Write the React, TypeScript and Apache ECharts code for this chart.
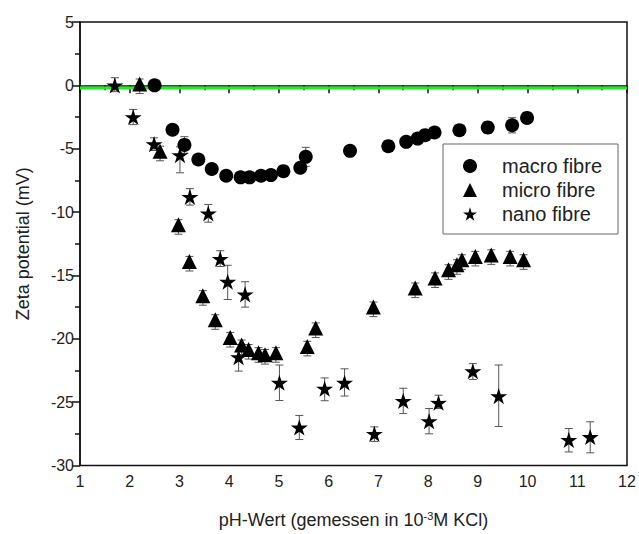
import React, { useEffect, useRef } from "react";
import * as echarts from "echarts";

const macroX = [2.5, 2.86, 3.1, 3.38, 3.65, 3.94, 4.23, 4.41, 4.64, 4.84, 5.09, 5.43, 5.54, 6.43, 7.2, 7.56, 7.79, 7.94, 8.13, 8.63, 9.2, 9.69, 9.99];
const macroY = [0, -3.5, -4.7, -5.85, -6.6, -7.13, -7.26, -7.26, -7.13, -7.08, -6.77, -6.5, -5.64, -5.17, -4.8, -4.46, -4.2, -3.93, -3.72, -3.54, -3.33, -3.15, -2.57];
const macroErr = [0.3, 0.3, 0.65, 0.3, 0.3, 0.3, 0.3, 0.3, 0.3, 0.3, 0.3, 0.3, 0.75, 0.4, 0.3, 0.3, 0.3, 0.3, 0.3, 0.3, 0.45, 0.6, 0.3];

const microX = [2.2, 2.61, 2.98, 3.2, 3.47, 3.72, 4.02, 4.25, 4.39, 4.59, 4.72, 4.94, 5.57, 5.74, 6.9, 7.74, 8.14, 8.41, 8.58, 8.68, 8.95, 9.27, 9.65, 9.92];
const microY = [0.1, -5.2, -11.0, -13.9, -16.6, -18.5, -19.9, -20.5, -20.85, -21.1, -21.25, -21.1, -20.6, -19.15, -17.5, -16.0, -15.2, -14.56, -14.16, -13.77, -13.5, -13.38, -13.5, -13.77];
const microErrUp = [0.4, 0.4, 0.4, 0.4, 0.4, 0.4, 0.4, 0.4, 0.4, 0.4, 0.4, 0.4, 0.4, 0.4, 0.4, 0.4, 0.4, 0.4, 0.4, 0.4, 0.4, 0.4, 0.4, 0.4];
const microErrDown = [0.75, 0.75, 0.75, 0.75, 0.75, 0.75, 0.75, 0.75, 0.75, 0.75, 0.75, 0.75, 0.75, 0.75, 0.75, 0.75, 0.75, 0.75, 0.75, 0.75, 0.75, 0.75, 0.75, 0.75];

const nanoX = [1.7, 2.07, 2.49, 3.01, 3.21, 3.58, 3.82, 3.97, 4.19, 4.32, 5.01, 5.41, 5.92, 6.32, 6.92, 7.5, 8.02, 8.21, 8.9, 9.42, 10.83, 11.26];
const nanoY = [0, -2.5, -4.64, -5.5, -8.8, -10.1, -13.7, -15.5, -21.45, -16.5, -23.47, -27.0, -23.94, -23.47, -27.5, -24.9, -26.5, -25.05, -22.56, -24.52, -27.98, -27.75];
const nanoErrUp = [0.6, 0.6, 0.5, 0.65, 0.65, 0.7, 0.65, 1.3, 1.0, 1.0, 1.4, 0.95, 0.85, 1.1, 0.55, 1.0, 1.0, 0.6, 0.6, 2.45, 0.9, 1.2];
const nanoErrDown = [0.5, 0.6, 0.5, 1.4, 0.65, 0.7, 0.6, 1.4, 1.1, 1.0, 1.4, 0.95, 0.95, 1.05, 0.6, 1.0, 1.0, 0.45, 0.65, 2.4, 0.95, 1.25];

const referenceLine = -0.2;
const seriesNames = ["macro fibre", "micro fibre", "nano fibre"];

const STAR =
  "path://M50 0 L61.17 34.63 L97.55 34.55 L68.07 55.87 L79.39 90.45 L50 69 L20.61 90.45 L31.93 55.87 L2.45 34.55 L38.83 34.63 Z";
const FONT = "'Liberation Sans', Arial, sans-serif";

function errData(xs: number[], ys: number[], up: number[], down: number[]) {
  return xs.map((x, i) => [x, ys[i] - down[i], ys[i] + up[i]]);
}

const renderErr = (params: any, api: any) => {
  const x = api.value(0);
  const lo = api.coord([x, api.value(1)]);
  const hi = api.coord([x, api.value(2)]);
  const hw = 4;
  const st = { stroke: "#555", lineWidth: 1 };
  return {
    type: "group",
    children: [
      { type: "line", shape: { x1: lo[0], y1: lo[1], x2: hi[0], y2: hi[1] }, style: st },
      { type: "line", shape: { x1: hi[0] - hw, y1: hi[1], x2: hi[0] + hw, y2: hi[1] }, style: st },
      { type: "line", shape: { x1: lo[0] - hw, y1: lo[1], x2: lo[0] + hw, y2: lo[1] }, style: st },
    ],
  };
};

export default function App() {
  const ref = useRef<HTMLDivElement>(null);
  useEffect(() => {
    if (!ref.current) return;
    const chart = echarts.init(ref.current, null, { renderer: "svg" });
    const axisLabel = { color: "#222", fontSize: 16, fontFamily: FONT };
    chart.setOption({
      animation: false,
      backgroundColor: "#fff",
      grid: {
        left: 80,
        right: 12,
        top: 22,
        bottom: 67,
        show: true,
        borderColor: "#111",
        borderWidth: 1.5,
      },
      legend: {
        data: [
          { name: seriesNames[0], icon: "circle" },
          { name: seriesNames[1], icon: "triangle" },
          { name: seriesNames[2], icon: STAR },
        ],
        orient: "vertical",
        left: 443,
        top: 144,
        padding: [12, 16, 10, 20],
        itemWidth: 14,
        itemHeight: 14,
        itemGap: 4,
        borderColor: "#666",
        borderWidth: 1,
        backgroundColor: "#fff",
        itemStyle: { color: "#000", opacity: 1 },
        textStyle: { fontSize: 20, color: "#222", fontFamily: FONT, padding: [0, 0, 0, 20] },
      },
      xAxis: {
        type: "value",
        min: 1,
        max: 12,
        interval: 1,
        name: "pH-Wert (gemessen in 10{sup|-3}M KCl)",
        nameLocation: "middle",
        nameGap: 45,
        nameTextStyle: {
          fontSize: 18,
          color: "#222",
          fontFamily: FONT,
          rich: {
            sup: { fontSize: 11, color: "#222", fontFamily: FONT, verticalAlign: "top", padding: [0, 0, 8, 0] },
          },
        },
        axisLine: { show: true, lineStyle: { color: "#111", width: 1.5 } },
        axisTick: { show: true, inside: false, length: 8, lineStyle: { color: "#111", width: 1.5 } },
        minorTick: { show: true, splitNumber: 2, length: 5, lineStyle: { color: "#111", width: 1.5 } },
        axisLabel: { ...axisLabel, margin: 8 },
        splitLine: { show: false },
      },
      yAxis: {
        type: "value",
        min: -30,
        max: 5,
        interval: 5,
        name: "Zeta potential (mV)",
        nameLocation: "middle",
        nameGap: 48,
        nameTextStyle: { fontSize: 18, color: "#222", fontFamily: FONT },
        axisLine: { show: true, lineStyle: { color: "#111", width: 1.5 } },
        axisTick: { show: true, inside: false, length: 8, lineStyle: { color: "#111", width: 1.5 } },
        minorTick: { show: true, splitNumber: 2, length: 5, lineStyle: { color: "#111", width: 1.5 } },
        axisLabel: { ...axisLabel, margin: 6 },
        splitLine: { show: false },
      },
      series: [
        {
          type: "line",
          name: "reference",
          data: [
            [1, referenceLine],
            [12, referenceLine],
          ],
          symbol: "none",
          lineStyle: { color: "#19f219", width: 3 },
          z: 1,
          silent: true,
        },
        {
          type: "custom",
          name: "macro err",
          renderItem: renderErr,
          data: errData(macroX, macroY, macroErr, macroErr),
          encode: { x: 0, y: [1, 2] },
          z: 2,
        },
        {
          type: "custom",
          name: "micro err",
          renderItem: renderErr,
          data: errData(microX, microY, microErrUp, microErrDown),
          encode: { x: 0, y: [1, 2] },
          z: 2,
        },
        {
          type: "custom",
          name: "nano err",
          renderItem: renderErr,
          data: errData(nanoX, nanoY, nanoErrUp, nanoErrDown),
          encode: { x: 0, y: [1, 2] },
          z: 2,
        },
        {
          type: "scatter",
          name: seriesNames[0],
          data: macroX.map((x, i) => [x, macroY[i]]),
          symbol: "circle",
          symbolSize: 14,
          itemStyle: { color: "#000", opacity: 1 },
          z: 3,
        },
        {
          type: "scatter",
          name: seriesNames[1],
          data: microX.map((x, i) => [x, microY[i]]),
          symbol: "triangle",
          symbolSize: 15,
          itemStyle: { color: "#000", opacity: 1 },
          z: 3,
        },
        {
          type: "scatter",
          name: seriesNames[2],
          data: nanoX.map((x, i) => [x, nanoY[i]]),
          symbol: STAR,
          symbolSize: 17,
          symbolKeepAspect: true,
          itemStyle: { color: "#000", opacity: 1 },
          z: 3,
        },
      ],
    });
    return () => chart.dispose();
  }, []);
  return (
    <div
      ref={ref}
      style={{ position: "fixed", left: 0, top: 0, width: 639, height: 534 }}
    />
  );
}
